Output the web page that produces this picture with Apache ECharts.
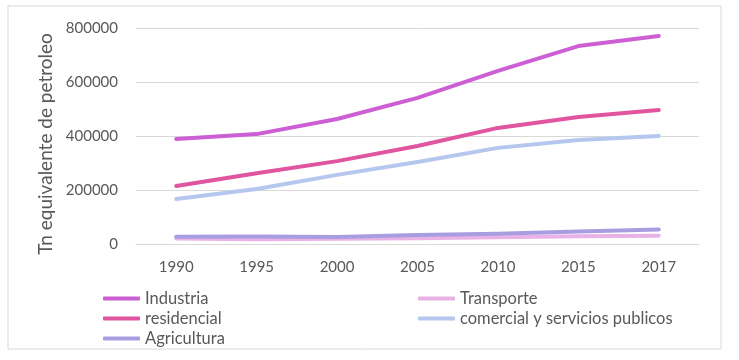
<!DOCTYPE html>
<html><head><meta charset="utf-8">
<script src="https://cdn.jsdelivr.net/npm/echarts@6/dist/echarts.min.js"></script>
<style>html,body{margin:0;padding:0;background:#fff}#c{width:739px;height:360px}</style>
</head><body><div id="c"></div>
<script>
const years = ['1990','1995','2000','2005','2010','2015','2017'];
const industria = [389000, 407000, 463000, 541000, 641000, 733000, 770000];
const transporte = [20000, 18000, 19000, 21000, 25000, 29000, 31000];
const residencial = [215000, 262000, 307000, 363000, 430000, 470000, 496000];
const comercial = [167000, 204000, 256000, 304000, 356000, 385000, 400000];
const agricultura = [27000, 28000, 26000, 33000, 38000, 46000, 54000];
const yTicks = [0, 200000, 400000, 600000, 800000];

const font = 'Lato, "Open Sans", sans-serif';
const mk = (name, data, color) => ({
  name, type: 'line', data, symbol: 'none', smooth: false,
  lineStyle: { width: 4, color, cap: 'round', join: 'round' },
  itemStyle: { color }
});
const legendText = { color: '#595959', fontSize: 16.5, fontFamily: font };
const chart = echarts.init(document.getElementById('c'));
chart.setOption({
  animation: false,
  graphic: [{ type: 'rect', shape: { x: 8, y: 6, width: 713, height: 343 },
    style: { fill: 'none', stroke: '#d9d9d9', lineWidth: 1 } }],
  grid: { left: 136, right: 40, top: 28, bottom: 116 },
  xAxis: {
    type: 'category', data: years, boundaryGap: true,
    axisLine: { lineStyle: { color: '#d9d9d9' } }, axisTick: { show: false },
    axisLabel: { color: '#595959', fontSize: 15, fontFamily: font, margin: 16 }
  },
  yAxis: {
    type: 'value', min: yTicks[0], max: yTicks[yTicks.length - 1], interval: 200000,
    name: 'Tn equivalente de petroleo', nameLocation: 'middle', nameGap: 76,
    nameTextStyle: { color: '#595959', fontSize: 19, fontFamily: font, padding: [0, 16, 0, 0] },
    axisLine: { show: false }, axisTick: { show: false },
    splitLine: { lineStyle: { color: '#d9d9d9' } },
    axisLabel: { color: '#595959', fontSize: 15, fontFamily: font, margin: 18,
      formatter: v => String(v) }
  },
  legend: [
    { data: ['Industria', 'residencial', 'Agricultura'], orient: 'vertical', left: 103, top: 290,
      padding: 0, icon: 'roundRect', itemWidth: 37, itemHeight: 4, itemGap: 3, textStyle: legendText },
    { data: ['Transporte', 'comercial y servicios publicos'], orient: 'vertical', left: 418, top: 290,
      padding: 0, icon: 'roundRect', itemWidth: 37, itemHeight: 4, itemGap: 3, textStyle: legendText }
  ],
  series: [
    mk('Industria', industria, '#CC5FD4'),
    mk('Transporte', transporte, '#E8B2E6'),
    mk('residencial', residencial, '#E0559F'),
    mk('comercial y servicios publicos', comercial, '#B5C7EE'),
    mk('Agricultura', agricultura, '#A89DE0')
  ]
});
</script></body></html>
